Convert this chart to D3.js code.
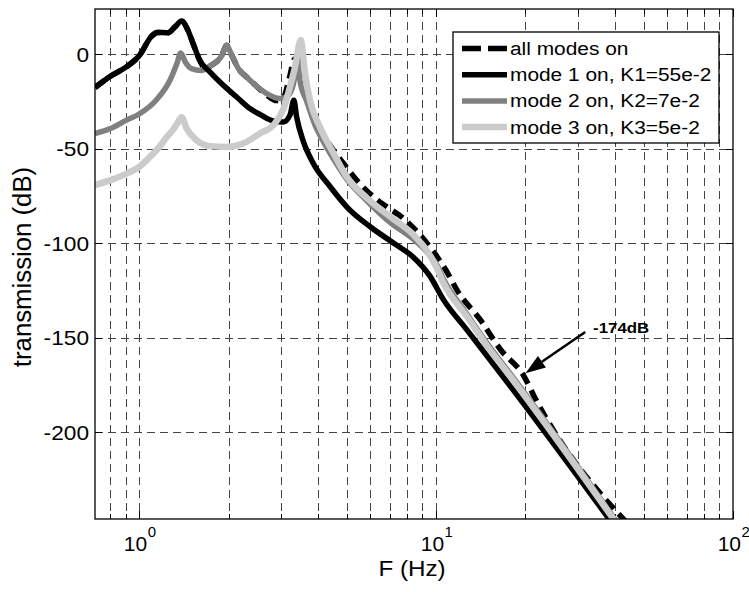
<!DOCTYPE html>
<html>
<head>
<meta charset="utf-8">
<script src="https://cdn.jsdelivr.net/npm/d3@7"></script>
<style>
  html, body { margin: 0; padding: 0; background: #fff; }
  svg text { font-family: "Liberation Sans", Arial, Helvetica, sans-serif; fill: #000; }
</style>
</head>
<body>
<div id="chart"></div>
<script>
// frequency axis ticks (Hz) and dB ticks
const xMajor = [1, 10, 100];
const xMinor = [0.8, 0.9, 2, 3, 4, 5, 6, 7, 8, 9, 20, 30, 40, 50, 60, 70, 80, 90];
const yTicks = [0, -50, -100, -150, -200];

// all modes on
const fAll = [0.71, 0.8, 0.9, 1.0, 1.1, 1.15, 1.25, 1.32, 1.39, 1.46, 1.52, 1.6, 1.666, 1.75, 1.9, 1.97, 2.05, 2.16, 2.3, 2.45, 2.69, 2.9, 3.06, 3.2, 3.34, 3.45, 3.55, 3.62, 3.76, 4.06, 4.45, 4.88, 5.4, 6.15, 6.82, 7.76, 8.73, 9.8, 10.87, 11.75, 14.1, 16.5, 19.8, 21.4, 44.5];
const dbAll = [-17.6, -11.6, -6.9, -0.8, 9.5, 11.6, 11.4, 14.5, 17.6, 12.7, 5.6, -3.2, -7.3, -5.8, -0.5, 4.8, -0.5, -7.6, -12, -16, -21.5, -24.5, -23, -13, -2.5, -3, -5, -11, -25.5, -39, -49.5, -57.8, -66.6, -75.4, -80.7, -86.8, -94.8, -104.5, -115.1, -124.7, -140.6, -156.4, -170.6, -181.1, -249];

// mode 1 on, K1=55e-2
const fMode1 = [0.71, 0.8, 0.9, 1.0, 1.1, 1.15, 1.25, 1.32, 1.39, 1.46, 1.52, 1.6, 1.73, 1.92, 2.13, 2.36, 2.55, 2.83, 3.06, 3.22, 3.32, 3.39, 3.57, 3.86, 4.4, 5.0, 6.0, 7.2, 8.4, 9.5, 10.6, 12.7, 14.9, 17.8, 39.5];
const dbMode1 = [-17.6, -11.6, -6.9, -0.8, 9.5, 11.6, 11.4, 14.5, 17.6, 12.7, 5.6, -3.2, -9.3, -16.4, -22.6, -28.7, -31.8, -35.3, -35.8, -32.2, -24.3, -33.1, -46, -57.8, -70.1, -80.7, -91.3, -100, -107.5, -117, -130, -145.9, -160, -175.8, -249];

// mode 2 on, K2=7e-2
const fMode2 = [0.71, 0.8, 0.9, 1.0, 1.14, 1.27, 1.34, 1.38, 1.43, 1.5, 1.62, 1.75, 1.9, 1.97, 2.05, 2.16, 2.3, 2.45, 2.69, 2.98, 3.18, 3.31, 3.42, 3.48, 3.67, 3.9, 4.2, 4.5, 5.0, 5.8, 7.0, 8.4, 9.3, 10.1, 10.6, 12.7, 14.9, 17.8, 41.2];
const dbMode2 = [-41.9, -39.3, -35.1, -31.6, -24.3, -13.7, -4.9, 0.7, -4.1, -7.6, -8.5, -5.8, -0.5, 4.8, -0.5, -7.6, -12, -16, -20.8, -23.4, -21.7, -15.5, -3, -14, -25, -37, -47, -55, -66, -77, -89, -98, -104.5, -112, -119, -137.5, -153.3, -169.2, -249];

// mode 3 on, K3=5e-2
const fMode3 = [0.71, 0.8, 0.9, 1.0, 1.087, 1.17, 1.24, 1.3, 1.343, 1.39, 1.445, 1.56, 1.73, 1.97, 2.24, 2.55, 2.83, 3.06, 3.22, 3.35, 3.5, 3.62, 3.76, 4.06, 4.52, 5.01, 5.84, 7.01, 8.39, 9.32, 10.05, 10.6, 12.7, 14.9, 17.8, 40.8];
const dbMode3 = [-69.2, -66.6, -63.4, -59.6, -54.3, -49, -43.7, -40, -36.6, -33.3, -39.3, -45.5, -48.6, -49, -47.2, -41.9, -37.5, -29, -17.3, -6.7, 7.4, -10.2, -24.3, -38.4, -52.5, -65, -76, -86, -95.5, -104, -113, -121.2, -138.8, -154.7, -170.6, -249];

const seriesNames = ["all modes on", "mode 1 on, K1=55e-2", "mode 2 on, K2=7e-2", "mode 3 on, K3=5e-2"];

// annotation in data units: [freq, dB]
const noteText = "-174dB";
const noteTail = [31.8, -147];
const noteTip = [20.0, -168.8];
const notePos = [33.8, -147.5];

let fullWidth = 749, fullHeight = 592;
let margin = { top: 9, right: 16, bottom: 73, left: 95 };
let width = fullWidth - margin.left - margin.right;
let height = fullHeight - margin.top - margin.bottom;

let svg = d3.select("#chart")
    .append("svg")
    .attr("width", fullWidth)
    .attr("height", fullHeight)
    .append("g")
    .attr("transform", `translate(${margin.left},${margin.top})`);

let x = d3.scaleLog().domain([0.71, 100]).range([0, width]);
let y = d3.scaleLinear().domain([-246, 24]).range([height, 0]);

// stretch text horizontally (the original font runs wide)
function stretch(sel, k) {
    sel.each(function() {
        let w = this.getComputedTextLength();
        d3.select(this).attr("textLength", w * k).attr("lengthAdjust", "spacingAndGlyphs");
    });
}

// grid
let grid = svg.append("g").attr("class", "grid")
    .attr("stroke", "#444")
    .attr("stroke-width", 1)
    .attr("stroke-dasharray", "8,5")
    .attr("shape-rendering", "crispEdges");

grid.selectAll(".vgrid")
    .data(xMajor.concat(xMinor).filter(d => d < 100))
    .enter().append("line")
    .attr("x1", d => Math.round(x(d)) + 0.5)
    .attr("x2", d => Math.round(x(d)) + 0.5)
    .attr("y1", 0)
    .attr("y2", height);

grid.selectAll(".hgrid")
    .data(yTicks)
    .enter().append("line")
    .attr("x1", 0)
    .attr("x2", width)
    .attr("y1", d => Math.round(y(d)) + 0.5)
    .attr("y2", d => Math.round(y(d)) + 0.5);

// ticks (inside, all four sides)
let ticks = svg.append("g").attr("stroke", "#000").attr("stroke-width", 1).attr("shape-rendering", "crispEdges");
xMajor.concat(xMinor).forEach(d => {
    let len = xMajor.includes(d) ? 8 : 5;
    let px = Math.round(x(d)) + 0.5;
    ticks.append("line").attr("x1", px).attr("x2", px).attr("y1", height).attr("y2", height - len);
    ticks.append("line").attr("x1", px).attr("x2", px).attr("y1", 0).attr("y2", len);
});
yTicks.forEach(d => {
    let py = Math.round(y(d)) + 0.5;
    ticks.append("line").attr("x1", 0).attr("x2", 7).attr("y1", py).attr("y2", py);
    ticks.append("line").attr("x1", width).attr("x2", width - 7).attr("y1", py).attr("y2", py);
});

// curves
svg.append("clipPath").attr("id", "clip")
    .append("rect").attr("width", width).attr("height", height);

let line = d3.line()
    .x(d => x(d[0]))
    .y(d => y(d[1]))
    .curve(d3.curveMonotoneX);

let curves = [
    { name: seriesNames[0], data: d3.zip(fAll, dbAll), color: "#000000", w: 5.5, dash: "12,7" },
    { name: seriesNames[2], data: d3.zip(fMode2, dbMode2), color: "#808080", w: 5.5, dash: null },
    { name: seriesNames[1], data: d3.zip(fMode1, dbMode1), color: "#000000", w: 5.5, dash: null },
    { name: seriesNames[3], data: d3.zip(fMode3, dbMode3), color: "#cbcbcb", w: 6.5, dash: null }
];

svg.append("g").attr("clip-path", "url(#clip)")
    .selectAll("path")
    .data(curves)
    .enter().append("path")
    .attr("d", d => line(d.data))
    .attr("fill", "none")
    .attr("stroke", d => d.color)
    .attr("stroke-width", d => d.w)
    .attr("stroke-linejoin", "round")
    .attr("stroke-dasharray", d => d.dash);

// axes box
svg.append("rect")
    .attr("width", width).attr("height", height)
    .attr("fill", "none").attr("stroke", "#000").attr("stroke-width", 1.3);

// y tick labels
svg.selectAll(".ylab")
    .data(yTicks)
    .enter().append("text")
    .attr("class", "ylab")
    .attr("x", -6)
    .attr("y", d => y(d))
    .attr("dy", "0.36em")
    .attr("text-anchor", "end")
    .style("font-size", "21px")
    .text(d => d)
    .call(stretch, 1.08);

// x tick labels 10^n : base and exponent as separate texts
svg.selectAll(".xlab")
    .data(xMajor)
    .enter().append("text")
    .attr("class", "xlab")
    .attr("x", d => x(d) + 8)
    .attr("y", height + 32)
    .attr("text-anchor", "end")
    .style("font-size", "21px")
    .text("10");

svg.selectAll(".xexp")
    .data(xMajor)
    .enter().append("text")
    .attr("class", "xexp")
    .attr("x", d => x(d) + 8.5)
    .attr("y", height + 18)
    .attr("text-anchor", "start")
    .style("font-size", "15px")
    .text(d => Math.round(Math.log10(d)));

// axis labels
svg.append("text")
    .attr("x", width / 2 - 2)
    .attr("y", height + 57)
    .attr("text-anchor", "middle")
    .style("font-size", "22px")
    .text("F (Hz)")
    .call(stretch, 1.1);

svg.append("text")
    .attr("transform", `translate(${-margin.left + 31},${height / 2 + 3}) rotate(-90)`)
    .attr("text-anchor", "middle")
    .style("font-size", "25px")
    .text("transmission (dB)")
    .call(stretch, 1.03);

// annotation arrow
let tail = [x(noteTail[0]), y(noteTail[1])];
let tip = [x(noteTip[0]), y(noteTip[1])];
let ang = Math.atan2(tip[1] - tail[1], tip[0] - tail[0]);
let headLen = 20, headW = 7;
let base = [tip[0] - headLen * Math.cos(ang), tip[1] - headLen * Math.sin(ang)];
svg.append("line")
    .attr("x1", tail[0]).attr("y1", tail[1])
    .attr("x2", base[0]).attr("y2", base[1])
    .attr("stroke", "#000").attr("stroke-width", 2.5);
svg.append("path")
    .attr("d", `M${tip[0]},${tip[1]}L${base[0] + headW * Math.sin(ang)},${base[1] - headW * Math.cos(ang)}L${base[0] - headW * Math.sin(ang)},${base[1] + headW * Math.cos(ang)}Z`)
    .attr("fill", "#000");
svg.append("text")
    .attr("x", x(notePos[0]))
    .attr("y", y(notePos[1]))
    .style("font-size", "14px")
    .style("font-weight", "bold")
    .text(noteText)
    .call(stretch, 1.2);

// legend
let legend = svg.append("g")
    .attr("transform", `translate(${453 - margin.left},${32 - margin.top})`);

legend.append("rect")
    .attr("width", 266).attr("height", 111)
    .attr("fill", "#fff").attr("stroke", "#000").attr("stroke-width", 1.3);

let legendItems = [curves[0], curves[2], curves[1], curves[3]];
legend.selectAll(".legend-item")
    .data(legendItems)
    .enter()
    .append("g")
    .attr("class", "legend-item")
    .attr("transform", (d, i) => `translate(0, ${16.5 + i * 26.2})`)
    .each(function(d) {
        let g = d3.select(this);
        g.append("line")
            .attr("x1", 9).attr("x2", 54)
            .attr("stroke", d.color)
            .attr("stroke-width", d.w)
            .attr("stroke-dasharray", d.dash ? "19,7" : null);
        g.append("text")
            .attr("x", 57)
            .attr("y", 6.5)
            .style("font-size", "18px")
            .text(d.name)
            .call(stretch, 1.16);
    });
</script>
</body>
</html>
